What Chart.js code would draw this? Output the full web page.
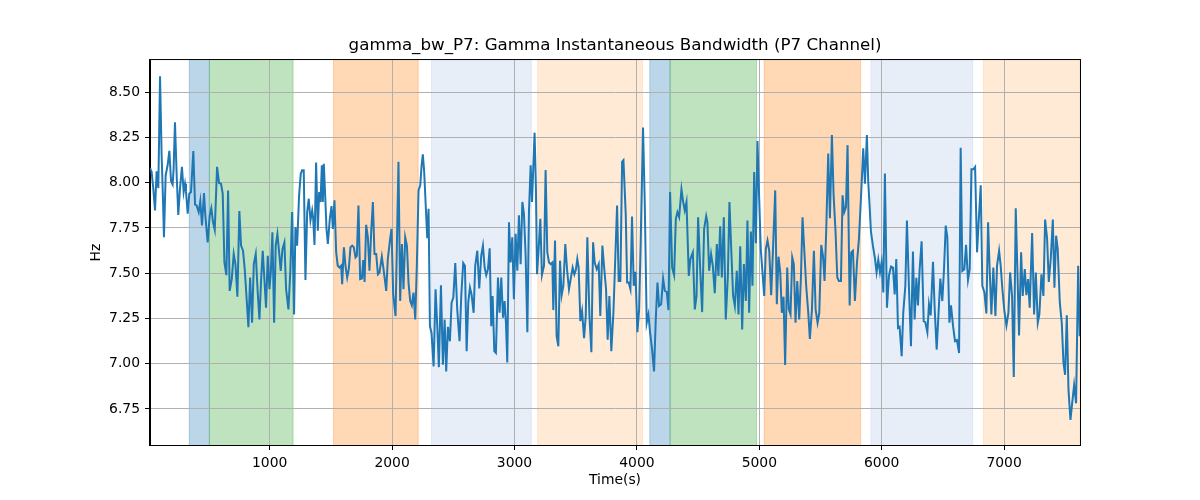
<!DOCTYPE html>
<html>
<head>
<meta charset="utf-8">
<title>gamma_bw_P7</title>
<script src="https://cdn.jsdelivr.net/npm/chart.js@4/dist/chart.umd.min.js"></script>
<style>
	html, body { margin: 0; padding: 0; background: #fff; }
	canvas { display: block; }
</style>
</head>
<body>
<canvas id="gammaChart" width="1200" height="500"></canvas>
<script>
// time (s) of each sample
const timeSec = [
	22, 35, 49, 63, 76, 90, 104, 117, 128, 136, 150, 166, 180, 194, 207, 215, 226, 240, 253, 267,
	283, 297, 308, 316, 330, 343, 357, 376, 390, 403, 420, 433, 447, 463, 474, 493, 510, 523, 537, 551,
	570, 586, 602, 616, 630, 646, 660, 673, 690, 706, 720, 736, 752, 766, 782, 796, 810, 826, 840, 856,
	870, 886, 902, 916, 930, 943,
	970, 984, 998, 1009, 1022, 1036, 1049, 1063, 1077, 1090, 1104, 1120, 1134, 1153, 1169, 1183, 1199, 1210, 1224, 1240,
	1254, 1265, 1278, 1292, 1306, 1319, 1333, 1347, 1355, 1366, 1379, 1393, 1404, 1415, 1426, 1434, 1442, 1453, 1464, 1475,
	1491, 1505, 1516, 1529, 1543, 1556, 1570, 1584, 1592, 1606, 1619, 1633, 1646, 1660, 1674, 1687, 1701, 1712, 1725, 1739,
	1753, 1764, 1775, 1788, 1802, 1815, 1829, 1843, 1856, 1870, 1884, 1897, 1916, 1930,
	1952, 1965, 1982, 1995, 2009, 2028, 2052, 2066, 2080, 2093, 2107, 2121, 2134, 2148, 2161, 2175, 2189, 2202, 2216, 2230,
	2241, 2251, 2262, 2276, 2287, 2298, 2309, 2322, 2339, 2355, 2369, 2382, 2399, 2415, 2429, 2442, 2456, 2472, 2486, 2500,
	2516, 2532, 2551, 2565, 2581, 2595, 2609, 2622, 2636, 2649, 2666, 2679, 2696, 2712, 2728, 2742, 2756, 2769, 2783, 2797,
	2810, 2821, 2835, 2848, 2865, 2878, 2892, 2906,
	2919, 2930, 2941, 2955, 2968, 2982, 2995, 3009, 3023, 3036, 3050, 3064, 3077, 3091, 3105, 3118, 3132, 3143, 3154, 3164,
	3175, 3184, 3197, 3211, 3224, 3241, 3254, 3268, 3282, 3295, 3309, 3317, 3331, 3344, 3358, 3372, 3385, 3399, 3415, 3429,
	3445, 3459, 3475, 3489, 3502, 3513, 3524, 3538, 3552, 3568, 3582, 3595, 3612, 3628, 3642, 3655, 3672, 3688, 3701, 3718,
	3731, 3748, 3761, 3775, 3791, 3808, 3824, 3838, 3851, 3865, 3879, 3890,
	3909, 3920, 3933, 3947, 3960, 3974, 3988, 4004, 4018, 4031, 4050, 4064, 4080, 4094, 4108, 4124, 4140, 4154, 4168, 4181,
	4198, 4214, 4228, 4244, 4258, 4271, 4288, 4304, 4318, 4331, 4345, 4364, 4378, 4391, 4405, 4424, 4437, 4457, 4473, 4487,
	4500, 4517, 4533, 4549, 4566, 4576, 4590, 4606, 4620, 4636, 4653, 4666, 4680, 4694, 4710, 4726, 4743, 4756, 4770, 4786,
	4800, 4816, 4830, 4844, 4860, 4874,
	4890, 4903, 4917, 4931, 4944, 4958, 4972, 4985, 4999, 5012, 5026, 5040, 5053, 5067, 5081, 5097, 5113, 5130, 5143, 5157,
	5171, 5184, 5198, 5211, 5228, 5241, 5255, 5269, 5282, 5296, 5310, 5326, 5340, 5353, 5367, 5383, 5400, 5413, 5430, 5446,
	5460, 5476, 5490, 5506, 5520, 5533, 5547, 5563, 5577, 5593, 5607, 5623, 5637, 5650, 5667, 5680, 5694, 5708, 5721, 5738,
	5751, 5765, 5781, 5798, 5814, 5836, 5849, 5863, 5879,
	5890, 5898, 5912, 5928, 5945, 5958, 5972, 5986, 5999, 6013, 6026, 6043, 6059, 6076, 6092, 6106, 6119, 6133, 6146, 6163,
	6176, 6193, 6206, 6223, 6239, 6255, 6269, 6283, 6296, 6310, 6326, 6343, 6356, 6373, 6386, 6400, 6419, 6433, 6449, 6463,
	6479, 6495, 6509, 6523, 6536, 6553, 6566, 6583, 6599, 6615, 6632, 6645, 6659, 6675, 6689, 6705, 6719, 6733, 6749, 6763,
	6779, 6795, 6809, 6822, 6839, 6855, 6869,
	6882, 6896, 6912, 6929, 6942, 6959, 6972, 6986, 7002, 7019, 7035, 7049, 7065, 7079, 7095, 7109, 7122, 7139, 7152, 7169,
	7182, 7196, 7209, 7229, 7245, 7259, 7275, 7288, 7305, 7321, 7335, 7351, 7365, 7381, 7398, 7411, 7425, 7438, 7455, 7471,
	7485, 7498, 7512, 7526, 7542, 7556, 7572, 7588, 7605, 7618,
];

// gamma instantaneous bandwidth (Hz) at those times
const gammaBw = [
	8.081, 8.06, 7.967, 7.846, 8.063, 7.97, 8.587, 8.152, 7.911, 7.698, 8.041, 8.096, 8.176, 8.007, 7.989, 8.078, 8.333, 8.041, 7.822, 7.967,
	8.087, 7.948, 7.994, 7.952, 7.828, 7.939, 7.948, 8.174, 7.878, 7.874, 7.837, 7.898, 7.763, 7.943, 7.819, 7.670, 7.819, 7.859, 7.781, 7.739,
	8.087, 7.998, 7.994, 7.939, 7.559, 7.489, 7.957, 7.402, 7.467, 7.606, 7.55, 7.370, 7.843, 7.652, 7.624, 7.522, 7.374, 7.202, 7.476, 7.226,
	7.55, 7.606, 7.393, 7.244, 7.467, 7.624,
	7.309, 7.596, 7.411, 7.504, 7.726, 7.226, 7.652, 7.717, 7.615, 7.513, 7.633, 7.670, 7.411, 7.300, 7.522, 7.837, 7.272, 7.754, 7.652, 7.930,
	8.050, 8.069, 8.069, 7.463, 7.837, 7.911, 7.791, 7.846, 7.804, 7.656, 8.111, 7.735, 7.948, 7.893, 8.096, 7.893, 8.104, 7.930, 7.744, 7.661,
	7.800, 7.870, 7.744, 7.902, 7.615, 7.541, 7.531, 7.541, 7.439, 7.643, 7.541, 7.476, 7.522, 7.643, 7.652, 7.643, 7.587, 7.596, 7.874, 7.467,
	7.470, 7.572, 7.452, 7.767, 7.698, 7.513, 7.726, 7.893, 7.606, 7.606, 7.494, 7.504, 7.591, 7.522,
	7.402, 7.578, 7.680, 7.744, 7.383, 7.263, 8.115, 7.346, 7.661, 7.411, 7.698, 7.652, 7.448, 7.346, 7.322, 7.393, 7.244, 7.541, 7.957, 7.985,
	8.096, 8.156, 8.059, 7.856, 7.693, 7.856, 7.207, 7.170, 6.985, 7.411, 7.207, 6.981, 7.433, 6.994, 7.244, 6.957, 7.204, 7.124, 7.337, 7.365,
	7.556, 7.300, 7.124, 7.374, 7.556, 7.541, 7.069, 7.337, 7.420, 7.383, 7.281, 7.541, 7.624, 7.415, 7.596, 7.652, 7.531, 7.489, 7.522, 7.637,
	7.207, 7.374, 7.069, 7.059, 7.476, 7.281, 7.476, 7.254,
	7.346, 7.226, 7.007, 7.781, 7.559, 7.698, 7.356, 7.717, 7.513, 7.819, 7.550, 7.893, 7.828, 7.596, 7.174, 7.837, 8.096, 7.893, 8.096, 8.276,
	7.967, 7.494, 7.633, 7.800, 7.489, 7.541, 8.069, 7.615, 7.559, 7.550, 7.559, 7.296, 7.680, 7.152, 7.096, 7.569, 7.378, 7.430, 7.661, 7.522,
	7.411, 7.467, 7.531, 7.494, 7.522, 7.578, 7.531, 7.235, 7.291, 7.141, 7.263, 7.698, 7.263, 7.063, 7.670, 7.559, 7.522, 7.550, 7.263, 7.652,
	7.541, 7.411, 7.133, 7.374, 7.069, 7.281, 7.596, 7.874, 7.457, 7.457, 8.115, 8.124,
	7.819, 7.448, 7.448, 7.411, 7.813, 7.430, 7.507, 7.174, 7.300, 7.670, 8.304, 7.893, 7.226, 7.272, 7.170, 7.078, 6.957, 7.244, 7.448, 7.319,
	7.328, 7.470, 7.402, 7.396, 7.296, 7.948, 7.531, 7.489, 7.800, 7.837, 7.809, 7.963, 7.893, 7.846, 7.893, 7.485, 7.578, 7.615, 7.300, 7.374,
	7.809, 7.522, 7.285, 7.744, 7.815, 7.781, 7.513, 7.606, 7.541, 7.389, 7.661, 7.485, 7.759, 7.476, 7.809, 7.244, 7.485, 7.893, 7.643, 7.374,
	7.319, 7.513, 7.272, 7.648, 7.189, 7.550,
	7.346, 7.791, 7.281, 7.730, 7.430, 8.059, 7.665, 8.230, 7.911, 7.633, 7.504, 7.374, 7.633, 7.680, 7.624, 7.378, 7.652, 7.957, 7.328, 7.591,
	7.504, 7.281, 7.370, 6.993, 7.531, 7.300, 7.272, 7.587, 7.550, 7.226, 7.457, 7.244, 7.476, 7.809, 7.633, 7.430, 7.281, 7.137, 7.300, 7.624,
	7.300, 7.226, 7.281, 7.656, 7.596, 7.457, 7.744, 8.161, 7.804, 8.263, 7.930, 7.726, 7.476, 7.457, 7.457, 7.930, 7.837, 7.865, 8.207, 7.322,
	7.615, 7.624, 7.346, 7.559, 7.689, 7.994, 8.189, 7.994, 8.263,
	8.004, 7.911, 7.730, 7.652, 7.581, 7.504, 7.574, 7.504, 7.559, 7.393, 8.050, 7.309, 7.485, 7.537, 7.531, 7.383, 7.578, 7.198, 7.204, 7.041,
	7.281, 7.430, 7.791, 7.411, 7.096, 7.619, 7.244, 7.474, 7.322, 7.522, 7.676, 7.235, 7.230, 7.174, 7.328, 7.267, 7.563, 7.300, 7.078, 7.263,
	7.470, 7.346, 7.522, 7.763, 7.698, 7.226, 7.322, 7.207, 7.124, 7.130, 7.059, 8.193, 7.513, 7.522, 7.656, 7.463, 7.522, 8.074, 8.074, 8.087,
	7.615, 7.819, 7.985, 7.430, 7.393, 7.278, 7.781,
	7.522, 7.272, 7.531, 7.263, 7.541, 7.624, 7.541, 7.411, 7.291, 7.211, 7.281, 7.504, 7.374, 6.926, 7.859, 7.504, 7.156, 7.615, 7.374, 7.522,
	7.378, 7.467, 7.309, 7.722, 7.272, 7.504, 7.226, 7.272, 7.494, 7.374, 7.796, 7.693, 7.452, 7.578, 7.796, 7.420, 7.707, 7.633, 7.337, 7.226,
	7.004, 6.939, 7.267, 6.856, 6.689, 6.781, 6.883, 6.781, 7.541, 7.152,
];

// shaded phases (start / end in seconds, and which phase kind)
const spanStart = [343, 507, 1521, 2322, 3189, 4105, 4271, 5040, 5912, 6831];
const spanEnd = [507, 1191, 2213, 3137, 4045, 4271, 4977, 5828, 6743, 7620];
const spanKind = ['blue', 'green', 'orange', 'lightBlue', 'lightOrange', 'blue', 'green', 'orange', 'lightBlue', 'lightOrange'];

const xTicks = [1000, 2000, 3000, 4000, 5000, 6000, 7000];
const yTicks = [6.75, 7.0, 7.25, 7.5, 7.75, 8.0, 8.25, 8.5];
const xRange = [22, 7620];
const yRange = [6.551, 8.677];

const SpanColors = Object.freeze({
	blue: 'rgba(31, 119, 180, 0.3)',
	green: 'rgba(44, 160, 44, 0.3)',
	orange: 'rgba(255, 127, 14, 0.3)',
	lightBlue: 'rgba(174, 199, 232, 0.3)',
	lightOrange: 'rgba(255, 187, 120, 0.3)',
});

const FONT = "'DejaVu Sans', sans-serif";

// axvspan-like shading, drawn before the grid so the grid sits on top
const spanPlugin = {
	id: 'phaseSpans',
	beforeDraw(chart) {
		const { ctx, chartArea: area, scales } = chart;
		ctx.save();
		ctx.beginPath();
		ctx.rect(area.left, area.top, area.right - area.left, area.bottom - area.top);
		ctx.clip();
		spanStart.forEach((start, i) => {
			const x0 = scales.x.getPixelForValue(start);
			const x1 = scales.x.getPixelForValue(spanEnd[i]);
			ctx.fillStyle = SpanColors[spanKind[i]];
			ctx.strokeStyle = SpanColors[spanKind[i]];
			ctx.lineWidth = 1;
			ctx.fillRect(x0, area.top, x1 - x0, area.bottom - area.top);
			ctx.strokeRect(x0, area.top - 2, x1 - x0, area.bottom - area.top + 4);
		});
		ctx.restore();
	},
	afterDraw(chart) {
		const { ctx, chartArea: area } = chart;
		ctx.save();
		ctx.strokeStyle = '#000';
		ctx.lineWidth = 1;
		ctx.strokeRect(area.left - 0.5, area.top - 0.5, area.right - area.left + 1, area.bottom - area.top + 1);
		ctx.restore();
	},
};

Chart.defaults.color = '#000';
Chart.defaults.font.family = FONT;

const points = timeSec.map((t, i) => ({ x: t, y: gammaBw[i] }));

new Chart(document.getElementById('gammaChart'), {
	type: 'line',
	data: {
		datasets: [
			{
				label: 'gamma_bw_P7',
				data: points,
				borderColor: '#1f77b4',
				borderWidth: 2,
				pointRadius: 0,
				tension: 0,
				fill: false,
			},
		],
	},
	options: {
		responsive: false,
		animation: false,
		// left padding 30 + y axis 120 = plot left at 150; right spacer axis 120 -> plot right at 1080
		// so the title box (30..1200) is centred over the plot like matplotlib's
		layout: { autoPadding: false, padding: { left: 30, right: 0, top: 0, bottom: 0 } },
		plugins: {
			legend: { display: false },
			tooltip: { enabled: false },
			title: {
				display: true,
				text: 'gamma_bw_P7: Gamma Instantaneous Bandwidth (P7 Channel)',
				color: '#000',
				font: { family: FONT, size: 16.7, weight: 'normal', lineHeight: 1.2 },
				padding: { top: 36, bottom: 4 },
			},
		},
		scales: {
			x: {
				type: 'linear',
				min: xRange[0],
				max: xRange[1],
				afterBuildTicks: (scale) => {
					scale.ticks = xTicks.map((v) => ({ value: v }));
				},
				afterFit: (scale) => {
					scale.height = 55;
				},
				ticks: {
					font: { family: FONT, size: 13.9 },
					padding: 5,
					maxRotation: 0,
					callback: (v) => String(v),
				},
				grid: { color: '#b0b0b0', lineWidth: 1, tickColor: '#000', tickLength: 5 },
				border: { display: true, color: '#000', width: 1 },
				title: {
					display: true,
					text: 'Time(s)',
					font: { family: FONT, size: 13.9, lineHeight: 1.2 },
					padding: { top: 0, bottom: 11 },
				},
			},
			y: {
				type: 'linear',
				position: 'left',
				min: yRange[0],
				max: yRange[1],
				afterBuildTicks: (scale) => {
					scale.ticks = yTicks.map((v) => ({ value: v }));
				},
				afterFit: (scale) => {
					scale.width = 120;
				},
				ticks: {
					font: { family: FONT, size: 13.9 },
					padding: 5,
					callback: (v) => Number(v).toFixed(2),
				},
				grid: { color: '#b0b0b0', lineWidth: 1, tickColor: '#000', tickLength: 5 },
				border: { display: true, color: '#000', width: 1 },
				title: {
					display: true,
					text: 'Hz',
					font: { family: FONT, size: 13.9, lineHeight: 1.2 },
					padding: { top: 58, bottom: 0 },
				},
			},
			spacer: {
				type: 'linear',
				position: 'right',
				min: yRange[0],
				max: yRange[1],
				afterFit: (scale) => {
					scale.width = 120;
				},
				ticks: { display: false },
				grid: { display: false },
				border: { display: false },
			},
		},
	},
	plugins: [spanPlugin],
});
</script>
</body>
</html>
